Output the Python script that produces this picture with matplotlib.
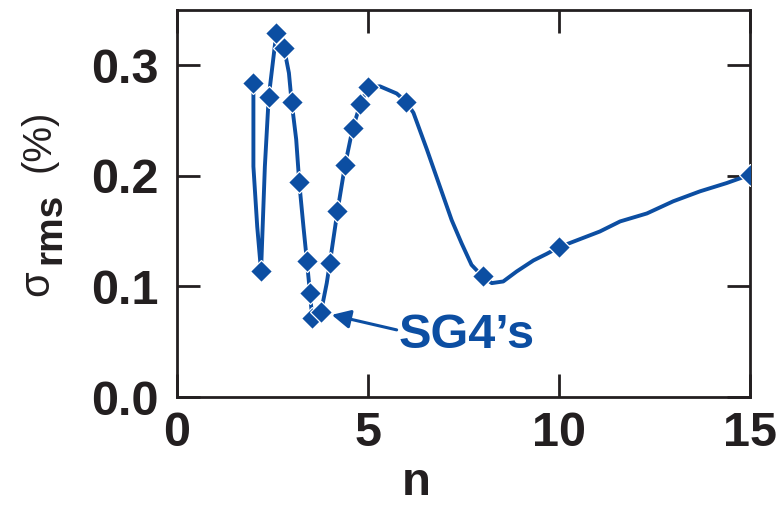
import numpy as np
import matplotlib
matplotlib.use('Agg')
from matplotlib import pyplot as plt

# sampled points (diamond markers)
n_pts = [2.0, 2.2, 2.4, 2.6, 2.8, 3.0, 3.2, 3.4, 3.48, 3.54, 3.77,
         4.0, 4.2, 4.4, 4.6, 4.8, 5.0, 6.0, 8.0, 10.0, 15.0]
sigma_pts = [0.284, 0.114, 0.271, 0.329, 0.316, 0.267, 0.194, 0.123, 0.0945, 0.071, 0.077,
             0.121, 0.168, 0.210, 0.243, 0.265, 0.280, 0.267, 0.109, 0.1355, 0.201]

# smooth guide curve
n_curve = [2.0, 2.0, 2.10, 2.2, 2.30, 2.4, 2.6, 2.8, 2.93, 3.0, 3.12, 3.2, 3.31, 3.4,
           3.48, 3.54, 3.77, 3.92, 4.0, 4.2, 4.4, 4.6, 4.8, 5.0, 5.31, 5.75, 6.0,
           6.19, 6.54, 6.88, 7.19, 7.45, 7.71, 8.0, 8.24, 8.54, 8.89, 9.33, 9.68,
           10.0, 11.07, 11.6, 12.3, 12.99, 13.69, 14.39, 15.0]
sigma_curve = [0.284, 0.2085, 0.154, 0.114, 0.2085, 0.271, 0.329, 0.316, 0.293, 0.267,
               0.233, 0.194, 0.154, 0.123, 0.0945, 0.071, 0.077, 0.103, 0.121, 0.168,
               0.210, 0.243, 0.265, 0.280, 0.281, 0.2745, 0.267, 0.257, 0.224, 0.1905,
               0.160, 0.139, 0.1195, 0.109, 0.103, 0.1045, 0.1135, 0.1235, 0.1295,
               0.1355, 0.1497, 0.1588, 0.166, 0.177, 0.186, 0.1935, 0.201]

blue = '#0c4ea2'
dark = '#231f20'

plt.rcParams['font.family'] = ['Liberation Sans', 'DejaVu Sans']

fig = plt.figure(figsize=(7.76, 5.08), dpi=100)
ax = fig.add_axes([0.2281, 0.2185, 0.7384, 0.7618])

ax.plot(n_curve, sigma_curve, color=blue, lw=2.8, zorder=2)
ax.plot(n_pts, sigma_pts, ls='none', marker='D', ms=11.5, color=blue,
        mec='white', mew=0.9, zorder=3)

ax.set_xlim(0, 15)
ax.set_ylim(0, 0.35)
ax.set_xticks([0, 5, 10, 15])
ax.set_yticks([0.0, 0.1, 0.2, 0.3])
ax.set_yticklabels(['0.0', '0.1', '0.2', '0.3'])
ax.tick_params(direction='in', length=16.5, width=2, color=dark, top=True, right=True,
               labelsize=35, labelcolor=dark)
ax.tick_params(axis='y', pad=13)
ax.tick_params(axis='x', pad=10)
for lbl in ax.get_xticklabels() + ax.get_yticklabels():
    lbl.set_fontweight('bold')
for sp in ax.spines.values():
    sp.set_linewidth(2)
    sp.set_color(dark)

ax.set_xlabel('n', fontsize=34, fontweight='bold', color=dark)
ax.xaxis.set_label_coords(0.418, -0.165)
ax.xaxis.label.set_va('top')

# y label: sigma with bold subscript, then (%)
fig.text(0.0477, 0.443, '\u03c3', rotation=90, fontsize=30, color=dark,
         ha='center', va='center')
fig.text(0.0644, 0.551, 'rms', rotation=90, fontsize=28, fontweight='bold', color=dark,
         ha='center', va='center')
fig.text(0.049, 0.722, '(%)', rotation=90, fontsize=29, color=dark,
         ha='center', va='center')

ax.annotate('', xy=(4.05, 0.0743), xytext=(5.75, 0.0607),
            arrowprops=dict(arrowstyle='-|>', color=blue, lw=2.2,
                            mutation_scale=28, shrinkA=0, shrinkB=0))
ax.text(5.79, 0.0444, 'SG4\u2019s', fontsize=35, fontweight='bold', color=blue,
        ha='left', va='baseline')

plt.savefig('out.png', dpi=100)
